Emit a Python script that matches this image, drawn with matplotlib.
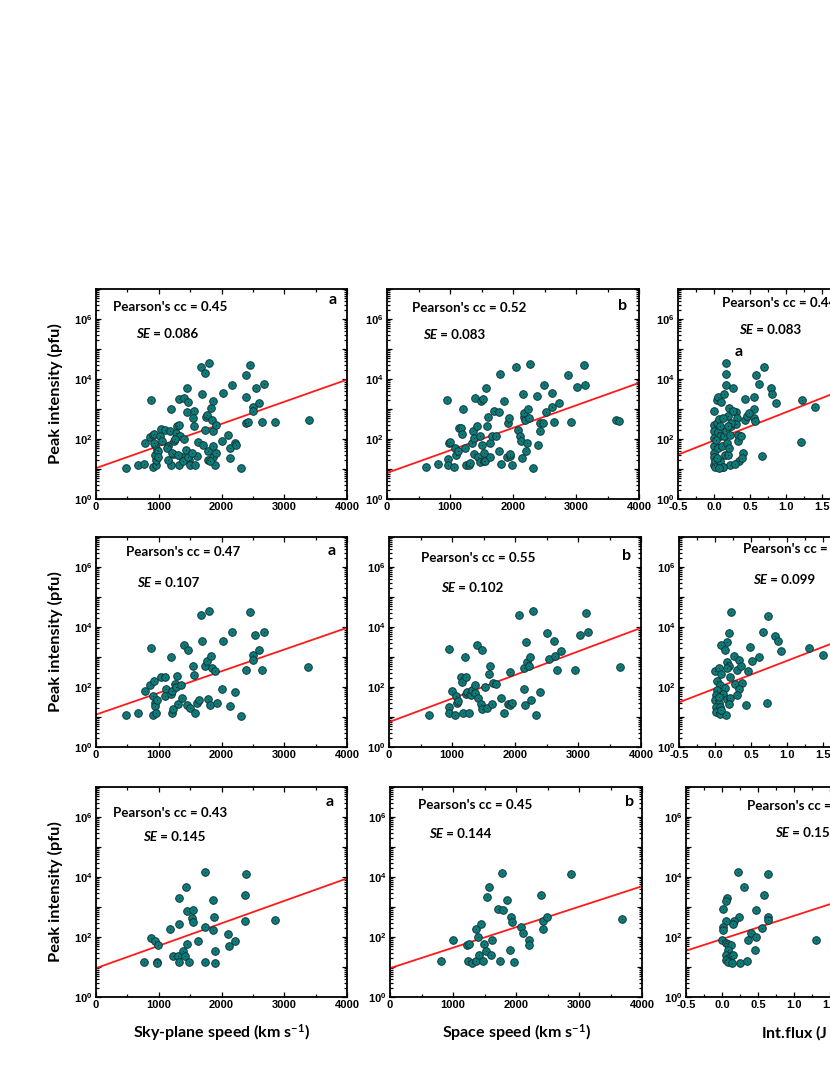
import numpy as np
import matplotlib
matplotlib.use('Agg')
import matplotlib.pyplot as plt
from matplotlib.ticker import MultipleLocator, LogLocator, FixedLocator, NullFormatter, FuncFormatter, FormatStrFormatter

plt.rcParams['axes.unicode_minus'] = False

# ---------------- data (x, peak intensity in pfu) ----------------
sky_set1 = [(477,11),(663,14),(764,15),(785,74),(875,1945),(859,117),(912,139),(928,151),(902,12),(955,14),(950,20),(939,30),(966,44),(939,62),(928,74),(992,39),(1029,215),(1098,205),(1188,1000),(1178,180),(1151,57),(1194,14),(1231,32),(1247,88),(1284,264),(1273,158),(1326,2150),(1326,285),(1337,129),(1326,14),(1363,25),(1400,2330),(1443,5010),(1459,1710),(1443,795),(1400,100),(1432,42),(1485,20),(1496,14),(1560,880),(1549,500),(1565,264),(1576,14),(1602,28),(1629,77),(1682,3160),(1671,25100),(1735,15800),(1804,34100),(1735,205),(1751,527),(1761,648),(1788,39),(1777,20),(1830,1080),(1857,1800),(1841,441),(1857,180),(1867,26),(1894,14),(1910,34),(1910,300),(2016,3410),(2000,84),(2106,139),(2133,50),(2143,24),(2170,6310),(2212,74),(2239,62),(2318,11),(2387,2510),(2398,13200),(2387,341),(2424,360),(2461,30000),(2504,1140),(2504,836),(2546,5140),(2594,1580),(2652,360),(2679,6640),(2849,378),(3395,441),(1019,123),(1125,50),(1151,20),(1204,34),(1257,100),(1310,30),(1390,18),(1470,26),(1523,34),(1708,65),(1814,18),(1857,57),(981,26),(1045,84)]
space_set1 = [(624,12),(810,15),(952,1945),(963,22),(968,14),(989,74),(1005,77),(1058,12),(1074,50),(1101,30),(1122,41),(1138,233),(1175,233),(1185,151),(1206,1000),(1233,50),(1259,14),(1296,14),(1323,16),(1349,74),(1365,180),(1376,108),(1386,32),(1402,2330),(1429,264),(1444,26),(1471,123),(1481,17),(1492,1800),(1508,65),(1519,2150),(1534,34),(1545,18),(1561,18),(1577,5010),(1587,264),(1603,541),(1630,74),(1640,26),(1667,129),(1704,836),(1735,123),(1772,795),(1783,41),(1788,15100),(1815,15),(1852,1800),(1905,26),(1921,341),(1931,500),(1947,28),(1958,32),(1984,14),(2053,24500),(2079,205),(2116,123),(2127,84),(2143,23),(2159,3240),(2169,541),(2180,736),(2196,441),(2212,39),(2222,74),(2238,1025),(2249,500),(2265,32400),(2317,11),(2381,2640),(2392,65),(2423,190),(2434,341),(2476,341),(2487,6470),(2529,774),(2614,1140),(2619,3410),(2651,360),(2725,1580),(2868,13200),(2921,360),(3016,5270),(3122,30000),(3138,6470),(3640,441),(3677,388)]
flux_set1 = [(0.0,830),(0.04,2040),(0.06,2510),(0.10,1710),(0.17,34000),(0.16,14700),(0.16,6460),(0.14,3160),(0.26,5000),(0.21,1080),(0.20,570),(0.23,264),(0.30,795),(0.32,500),(0.30,325),(0.34,139),(0.33,84),(0.37,123),(0.35,18),(0.40,34),(0.39,24),(0.22,14),(0.29,15),(0.0,300),(0.0,180),(0.0,108),(0.0,57),(0.0,34),(0.0,26),(0.0,14),(0.01,18),(0.02,12),(0.04,341),(0.05,166),(0.06,50),(0.07,464),(0.08,123),(0.09,264),(0.09,18),(0.11,57),(0.12,12),(0.13,500),(0.14,129),(0.15,30),(0.16,180),(0.18,74),(0.20,30),(0.21,50),(0.22,139),(0.24,341),(0.26,830),(0.13,12),(0.07,11),(0.04,23),(0.19,264),(0.03,95),(0.43,441),(0.43,2150),(0.46,570),(0.55,2450),(0.55,1000),(0.56,500),(0.57,388),(0.58,13800),(0.62,6990),(0.66,28),(0.48,736),(0.70,25100),(0.79,5010),(0.81,3240),(0.86,1580),(1.22,1945),(1.40,1140),(1.21,77)]

sky_set2 = [(472,12),(663,14),(780,72),(870,1945),(859,114),(928,155),(912,51),(902,12),(939,29),(939,23),(950,14),(976,36),(1034,215),(1098,215),(1114,88),(1098,49),(1194,1000),(1188,60),(1204,72),(1204,14),(1231,18),(1257,129),(1273,100),(1294,239),(1300,28),(1353,120),(1363,42),(1400,2510),(1459,1750),(1443,26),(1496,20),(1549,514),(1565,258),(1576,14),(1613,29),(1639,36),(1666,24500),(1682,3330),(1740,514),(1761,718),(1777,41),(1804,33300),(1814,26),(1825,1050),(1841,430),(1904,333),(1936,29),(2000,86),(2016,3500),(2143,24),(2164,6640),(2223,66),(2318,11),(2398,378),(2456,30800),(2504,1200),(2504,815),(2541,5270),(2594,1670),(2652,378),(2679,6990),(3385,452)]
space_set2 = [(636,12),(954,1910),(954,22),(959,14),(996,74),(1049,12),(1065,52),(1086,29),(1102,34),(1144,220),(1166,150),(1171,14),(1208,1010),(1219,220),(1224,57),(1234,70),(1277,14),(1298,54),(1325,80),(1367,116),(1367,62),(1404,2470),(1409,42),(1462,27),(1483,1770),(1483,18),(1526,103),(1552,20),(1605,510),(1595,263),(1632,27),(1648,132),(1701,122),(1780,42),(1828,14),(1881,27),(1913,25),(1923,322),(1950,29),(2056,24400),(2135,84),(2146,416),(2151,25),(2172,3180),(2188,691),(2215,510),(2241,1010),(2252,37),(2283,33000),(2331,12),(2389,67),(2506,6320),(2543,848),(2623,3350),(2638,1090),(2665,366),(2734,1560),(2946,366),(3025,5290),(3126,29900),(3152,6830),(3661,449)]
flux_set2 = [(0.22,32000),(0.74,24000),(0.20,6400),(0.67,6900),(0.84,5000),(0.87,3500),(0.17,3240),(0.08,2510),(0.14,1740),(0.48,2090),(0.91,1620),(1.30,1950),(1.50,1170),(0.26,1050),(0.33,815),(0.51,720),(0.61,980),(0.16,700),(0.20,520),(0.0,340),(0.05,430),(0.30,355),(0.36,520),(0.46,330),(0.09,262),(0.17,430),(0.21,214),(0.03,154),(0.28,129),(0.37,139),(0.34,88),(0.07,113),(0.14,95),(0.03,78),(0.01,56),(0.11,60),(0.17,41),(0.21,44),(0.30,53),(0.0,36),(0.06,30),(0.01,22),(0.07,22),(0.19,28),(0.43,26),(0.72,30),(0.01,15),(0.07,13),(0.15,12),(0.09,17),(0.05,47)]

sky_set3 = [(769,15),(875,95),(939,74),(966,15),(976,14),(992,53),(1178,180),(1326,2040),(1326,264),(1231,23),(1310,23),(1326,15),(1379,33),(1416,23),(1432,4680),(1443,741),(1443,57),(1485,15),(1549,813),(1533,437),(1549,316),(1618,74),(1735,14700),(1745,214),(1745,15),(1857,1660),(1867,174),(1878,468),(1894,34),(1894,14),(2106,129),(2122,49),(2212,74),(2382,2450),(2382,341),(2398,12900),(2859,380)]
space_set3 = [(804,16),(995,82),(1217,56),(1254,59),(1243,16),(1296,14),(1365,16),(1365,188),(1402,100),(1418,25),(1439,275),(1481,16),(1492,60),(1524,35),(1534,2100),(1577,4680),(1603,26),(1624,82),(1709,831),(1746,16),(1788,794),(1783,14100),(1852,1660),(1905,37),(1921,454),(1942,326),(1974,15),(2074,213),(2106,135),(2212,78),(2212,53),(2392,2450),(2434,344),(2434,188),(2487,454),(2868,12600),(3677,390)]
flux_set3 = [(0.22,15100),(0.64,12900),(0.31,4780),(0.07,1990),(0.06,1620),(0.59,2570),(0.02,860),(0.47,795),(0.05,338),(0.24,480),(0.17,338),(0.15,275),(0.01,214),(0.01,174),(0.64,457),(0.64,372),(0.56,198),(0.40,135),(0.47,100),(0.36,82),(0.46,36),(0.0,82),(0.05,63),(0.09,57),(0.12,53),(0.08,38),(0.06,25),(0.12,24),(0.15,25),(0.05,17),(0.08,15),(0.14,14),(0.25,14),(0.35,16),(1.30,78)]

# regression lines: log10(peak) = intercept + slope * x
fit_intercept = [[1.03, 0.87, 1.95], [1.08, 0.83, 1.95], [0.96, 0.96, 1.93]]
fit_slope = [[0.000737, 0.00075, 0.944], [0.000723, 0.000785, 0.924], [0.000748, 0.000683, 0.776]]

pearson_cc = [['0.45', '0.52', '0.44'], ['0.47', '0.55', '0.46'], ['0.43', '0.45', '0.43']]
se_values = [['0.086', '0.083', '0.083'], ['0.107', '0.102', '0.099'], ['0.145', '0.144', '0.153']]
panel_letters = [['a', 'b', 'a'], ['a', 'b', ''], ['a', 'b', '']]

x_labels = ['Sky-plane speed (km s$\\mathregular{^{-1}}$)',
            'Space speed (km s$\\mathregular{^{-1}}$)',
            'Int.flux (J m$\\mathregular{^{-2}}$)']
y_label = 'Peak intensity (pfu)'

panels = [[sky_set1, space_set1, flux_set1],
          [sky_set2, space_set2, flux_set2],
          [sky_set3, space_set3, flux_set3]]

# ---------------- layout (pixels) ----------------
W, H = 830, 1075
fig = plt.figure(figsize=(W / 100, H / 100), dpi=100)

# (left, top, right, bottom)
rects = [[(96, 289, 347, 499), (387, 289, 639, 499), (678, 289, 930, 499)],
         [(96, 537, 347, 747), (389, 537, 641, 747), (679, 537, 931, 747)],
         [(96, 787, 347, 997), (390, 787, 642, 997), (686, 787, 938, 997)]]
pear_pos = [[(112.7, 306.7), (411.7, 308), (721.7, 302.7)],
            [(126, 551.7), (420.7, 558.3), (742.7, 549.3)],
            [(112.7, 812.7), (418.3, 805), (747.3, 805.7)]]
se_pos = [[(136, 334), (422.7, 335), (739.3, 330)],
          [(136.7, 582.7), (440.7, 588.3), (753.3, 580)],
          [(142.7, 836.7), (429, 834.3), (775, 832.7)]]
letter_pos = [[(333, 300), (622.7, 306), (739, 352)],
              [(331.7, 551), (626.7, 556), (0, 0)],
              [(330, 801.7), (629.3, 801.7), (0, 0)]]

TXT = 'Lato'
TICKF = 'Liberation Sans'
FILL = '#0b7c7c'
EDGE = '#143636'


def fx(x):
    return x / W


def fy(y):
    return 1 - y / H


def dec_fmt(v, pos):
    e = int(round(np.log10(v)))
    if e % 2 == 0 and e <= 6:
        return '$\\mathregular{10^{%d}}$' % e
    return ''


for r in range(3):
    for c in range(3):
        l, t, rr, b = rects[r][c]
        ax = fig.add_axes([fx(l), fy(b), (rr - l) / W, (b - t) / H])
        pts = panels[r][c]
        xs = np.array([p[0] for p in pts], dtype=float)
        ys = np.array([p[1] for p in pts], dtype=float)

        ax.set_yscale('log')
        ax.set_ylim(1, 1e7)
        if c < 2:
            ax.set_xlim(0, 4000)
            ax.xaxis.set_major_locator(MultipleLocator(1000))
            ax.xaxis.set_minor_locator(MultipleLocator(500))
        else:
            ax.set_xlim(-0.5, 3.0)
            ax.xaxis.set_major_locator(MultipleLocator(0.5))
            ax.xaxis.set_minor_locator(MultipleLocator(0.25))
            ax.xaxis.set_major_formatter(FormatStrFormatter('%.1f'))

        ax.yaxis.set_major_locator(FixedLocator([10.0 ** k for k in range(0, 8)]))
        ax.yaxis.set_major_formatter(FuncFormatter(dec_fmt))
        ax.yaxis.set_minor_locator(LogLocator(base=10, subs=np.arange(2, 10), numticks=30))
        ax.yaxis.set_minor_formatter(NullFormatter())

        ax.tick_params(which='both', direction='in', top=True, right=True,
                       width=0.9, colors='black')
        ax.tick_params(which='major', length=3.5, pad=2.5)
        ax.tick_params(which='minor', length=2)
        for lab in ax.get_xticklabels() + ax.get_yticklabels():
            lab.set_fontfamily(TICKF)
            lab.set_fontweight('bold')
            lab.set_fontsize(8)
        for s in ax.spines.values():
            s.set_linewidth(1.3)

        # regression line
        xl = np.linspace(*ax.get_xlim(), 50)
        ax.plot(xl, 10 ** (fit_intercept[r][c] + fit_slope[r][c] * xl),
                color='#ff1a1a', lw=1.3, zorder=2)

        ax.scatter(xs, ys, s=30, facecolor=FILL, edgecolor=EDGE,
                   linewidths=0.7, zorder=3)
        ax.scatter(xs, ys, s=0.6, color='#0a2222', zorder=4, linewidths=0)

        # annotations
        px, py = pear_pos[r][c]
        fig.text(fx(px), fy(py), "Pearson's cc = " + pearson_cc[r][c],
                 fontfamily=TXT, fontweight='bold', fontsize=9.6,
                 ha='left', va='center')
        sx, sy = se_pos[r][c]
        t1 = fig.text(fx(sx), fy(sy), 'SE', fontfamily=TXT, fontweight='bold',
                      fontstyle='italic', fontsize=9.6, ha='left', va='center')
        fig.texts.append(matplotlib.text.Annotation(
            ' = ' + se_values[r][c], xy=(1, 0), xycoords=t1,
            ha='left', va='bottom', fontfamily=TXT, fontweight='bold', fontsize=9.6))
        fig.texts[-1].set_figure(fig)
        if panel_letters[r][c]:
            lx, ly = letter_pos[r][c]
            fig.text(fx(lx), fy(ly), panel_letters[r][c], fontfamily=TXT,
                     fontweight='bold', fontsize=11.5, ha='center', va='center')

        if c == 0:
            fig.text(fx(55), fy((t + b) / 2), y_label, rotation=90,
                     fontfamily=TXT, fontweight='bold', fontsize=11.8,
                     ha='center', va='center')
        if r == 2:
            fig.text(fx((l + rr) / 2), fy(1033), x_labels[c],
                     fontfamily=TXT, fontweight='bold', fontsize=11.5,
                     ha='center', va='center')

fig.savefig('out.png', dpi=100, facecolor='white')
